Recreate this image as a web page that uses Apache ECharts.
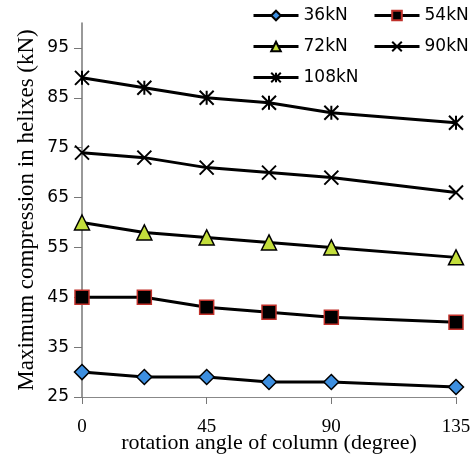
<!DOCTYPE html>
<html><head><meta charset="utf-8">
<script src="https://cdn.jsdelivr.net/npm/echarts@6/dist/echarts.min.js"></script>
<style>html,body{margin:0;padding:0;background:#fff}#c{width:474px;height:463px}</style>
</head><body><div id="c"></div>
<script>
const angles = [0, 22.5, 45, 67.5, 90, 135];
const s36 = [30, 29, 29, 28, 28, 27];
const s54 = [45, 45, 43, 42, 41, 40];
const s72 = [60, 58, 57, 56, 55, 53];
const s90 = [74, 73, 71, 70, 69, 66];
const s108 = [89, 87, 85, 84, 82, 80];
const seriesNames = ['36kN', '54kN', '72kN', '90kN', '108kN'];
const xTicks = [0, 45, 90, 135];
const yTicks = [25, 35, 45, 55, 65, 75, 85, 95];

const pairs = a => angles.map((x, i) => [x, a[i]]);
const lineStyle = { color: '#000', width: 3 };
const crossPath = 'path://M0,0L10,10M10,0L0,10';
const starPath = 'path://M0,0L10,10M10,0L0,10M5,0L5,10';

const chart = echarts.init(document.getElementById('c'));
const legendBase = {
  itemWidth: 45, itemHeight: 12, itemGap: 0, padding: 0,
  lineStyle: { width: 3, color: '#000' },
  textStyle: { fontFamily: '"DejaVu Sans", sans-serif', fontSize: 17, color: '#000' }
};
const leg = (left, center, names) => Object.assign({}, legendBase, { left, top: center - 10, data: names });
chart.setOption({
  animation: false,
  grid: { left: 82, right: 18, top: 23, bottom: 66, containLabel: false, outerBoundsMode: 'none' },
  legend: [
    leg(252, 17, [seriesNames[0]]),
    leg(373, 17, [seriesNames[1]]),
    leg(252, 48, [seriesNames[2]]),
    leg(373, 48, [seriesNames[3]]),
    leg(252, 79, [seriesNames[4]])
  ],
  xAxis: {
    type: 'value', min: 0, max: 135, interval: 45,
    splitLine: { show: false },
    axisLine: { lineStyle: { color: '#888', width: 1 } },
    axisTick: { show: true, length: 7, lineStyle: { color: '#777' }, customValues: xTicks },
    axisLabel: { customValues: xTicks, color: '#000', fontFamily: '"Liberation Serif", serif', fontSize: 19, margin: 21 },
    name: 'rotation angle of column (degree)', nameLocation: 'middle', nameGap: 35, nameMoveOverlap: false,
    nameTextStyle: { fontFamily: '"Liberation Serif", serif', fontSize: 22, color: '#000' }
  },
  yAxis: {
    type: 'value', min: 25, max: 100,
    splitLine: { show: false },
    axisLine: { show: true, lineStyle: { color: '#777', width: 1.5 } },
    axisTick: { show: true, length: 8, lineStyle: { color: '#777' }, customValues: yTicks },
    axisLabel: { customValues: yTicks, color: '#000', fontFamily: '"DejaVu Sans", sans-serif', fontSize: 17, margin: 13 },
    name: 'Maximum compression in helixes (kN)', nameLocation: 'middle', nameGap: 44, nameMoveOverlap: false,
    nameTextStyle: { fontFamily: '"Liberation Serif", serif', fontSize: 23, color: '#000' }
  },
  series: [
    { name: seriesNames[0], type: 'line', data: pairs(s36), symbol: 'diamond', symbolSize: 15, lineStyle,
      itemStyle: { color: '#3d8fe0', borderColor: '#000', borderWidth: 1.5 } },
    { name: seriesNames[1], type: 'line', data: pairs(s54), symbol: 'rect', symbolSize: 14, lineStyle,
      itemStyle: { color: '#000', borderColor: '#c0302a', borderWidth: 1.5 } },
    { name: seriesNames[2], type: 'line', data: pairs(s72), symbol: 'triangle', symbolSize: 15, lineStyle,
      itemStyle: { color: '#c3de3b', borderColor: '#000', borderWidth: 1.5 } },
    { name: seriesNames[3], type: 'line', data: pairs(s90), symbol: crossPath, symbolSize: 14, lineStyle,
      itemStyle: { color: 'none', borderColor: '#000', borderWidth: 2 } },
    { name: seriesNames[4], type: 'line', data: pairs(s108), symbol: starPath, symbolSize: 14, lineStyle,
      itemStyle: { color: 'none', borderColor: '#000', borderWidth: 2 } }
  ]
});
</script></body></html>
